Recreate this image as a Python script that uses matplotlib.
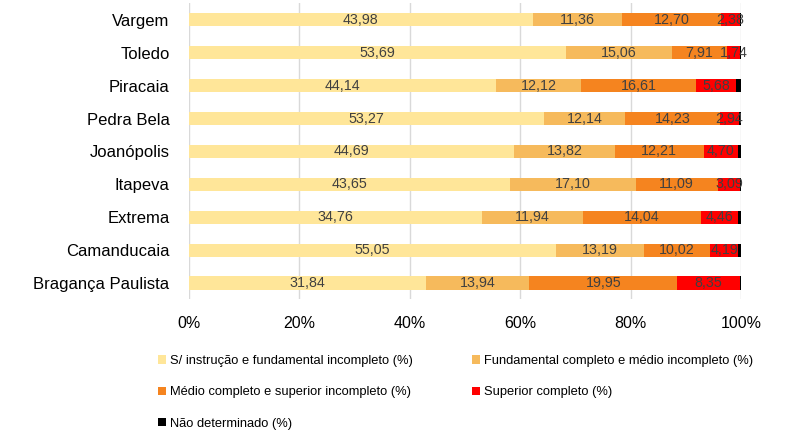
import numpy as np
import matplotlib
matplotlib.use("Agg")
import matplotlib.pyplot as plt

plt.rcParams['font.family'] = ['Liberation Sans', 'DejaVu Sans']

cidades = ['Vargem', 'Toledo', 'Piracaia', 'Pedra Bela', 'Joanópolis',
           'Itapeva', 'Extrema', 'Camanducaia', 'Bragança Paulista']
sem_instrucao = [43.98, 53.69, 44.14, 53.27, 44.69, 43.65, 34.76, 55.05, 31.84]
fundamental = [11.36, 15.06, 12.12, 12.14, 13.82, 17.10, 11.94, 13.19, 13.94]
medio = [12.70, 7.91, 16.61, 14.23, 12.21, 11.09, 14.04, 10.02, 19.95]
superior = [2.38, 1.74, 5.68, 2.94, 4.70, 3.09, 4.46, 4.19, 8.35]
nao_det = [0.18, 0.20, 0.75, 0.25, 0.45, 0.10, 0.30, 0.40, 0.20]

series = [sem_instrucao, fundamental, medio, superior, nao_det]
nomes = ['S/ instrução e fundamental incompleto (%)',
         'Fundamental completo e médio incompleto (%)',
         'Médio completo e superior incompleto (%)',
         'Superior completo (%)',
         'Não determinado (%)']
cores = ['#FFE699', '#F6BA5C', '#F5841F', '#FF0000', '#000000']

vals = np.array(series)
total = vals.sum(axis=0)
pct = vals / total * 100

fig = plt.figure(figsize=(7.95, 4.34), dpi=100)
ax = fig.add_axes([189/795, 0.31, 552/795, 0.682])

y = np.arange(len(cidades))
left = np.zeros(len(cidades))
handles = []
for i in range(len(series)):
    bars = ax.barh(y, pct[i], left=left, height=0.4, color=cores[i], label=nomes[i], zorder=2)
    handles.append(bars)
    if i < 4:
        labels = [f"{v:.2f}".replace('.', ',') for v in series[i]]
        ax.bar_label(bars, labels=labels, label_type='center', fontsize=10.3, color='#404040')
    left += pct[i]

ax.set_yticks(y)
ax.set_yticklabels(cidades, fontsize=12)
ax.invert_yaxis()
ax.set_ylim(8.5, -0.5)
ax.set_xlim(0, 100)
ax.set_xticks(np.arange(0, 101, 20))
ax.set_xticklabels([f"{t}%" for t in range(0, 101, 20)], fontsize=11.5)
ax.tick_params(axis='y', length=0, pad=14)
ax.tick_params(axis='x', length=0, pad=12)
ax.grid(axis='x', color='#d9d9d9', linewidth=1, zorder=0)
for s in ax.spines.values():
    s.set_visible(False)

ordem = [0, 2, 4, 1, 3]
fig.legend([handles[k] for k in ordem], [nomes[k] for k in ordem],
           loc='upper left', bbox_to_anchor=(158/795, 1 - 355/434), ncol=2,
           frameon=False, fontsize=9.3, handlelength=0.6, handleheight=0.6,
           handletextpad=0.3, labelspacing=1.5, columnspacing=4.6,
           borderpad=0, borderaxespad=0)

fig.savefig('out.png', dpi=100)
